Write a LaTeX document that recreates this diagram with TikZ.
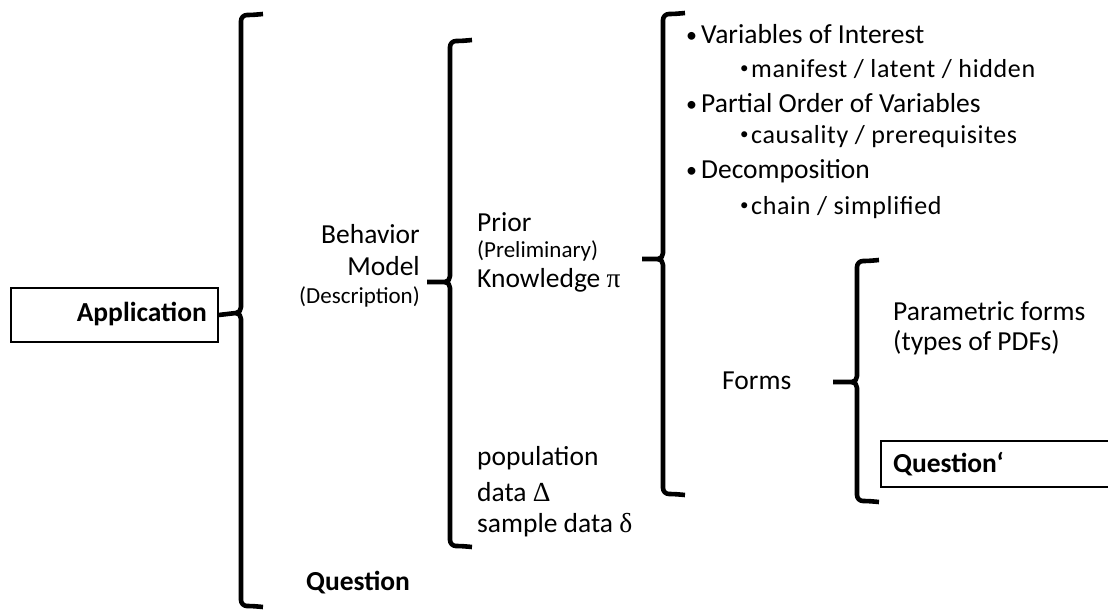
\documentclass[tikz,border=0pt]{standalone}
\usepackage{fontspec}
\setmainfont{Carlito}
\newfontfamily\grk{Liberation Serif}
\newfontfamily\subfont[LetterSpace=2.5]{Carlito}
\tikzset{
  brace/.style={line width=4.6pt, line cap=butt, line join=round},
  big/.style={font=\fontsize{27.5}{32}\selectfont, inner sep=0pt},
  small/.style={font=\fontsize{23}{27}\selectfont, inner sep=0pt},
  subitem/.style={font=\subfont\fontsize{26}{30}\selectfont, inner sep=0pt},
  boldtxt/.style={font=\fontsize{27.5}{32}\selectfont\bfseries, inner sep=0pt},
  box/.style={draw, line width=1.3pt},
}
\newcommand\mainbul{\makebox[15pt][l]{\raisebox{1pt}{\fontsize{22}{22}\selectfont •}}}
\newcommand\subbul{\makebox[11pt][l]{\raisebox{4pt}{\fontsize{17}{17}\selectfont •}}}
% #1 name, #2 x, #3 top, #4 tip y, #5 bottom, #6 tip target
\newcommand\drawbrace[6]{%
  \coordinate (#1t) at (#2+22,#3);
  \coordinate (#1b) at (#2+22,#5);
  \draw[brace] (#1t) to[out=185,in=0] (#2+6,#3+1) to[out=180,in=90] (#2,#3+7) -- (#2,#4-6)
     to[out=-90,in=0] (#2-5,#4) -- (#6);
  \draw[brace] (#2-5,#4) to[out=0,in=90] (#2,#4+6) -- (#2,#5-7)
     to[out=-90,in=180] (#2+6,#5-1) to[out=0,in=175] (#1b);
}
\begin{document}
\begin{tikzpicture}[x=1pt,y=-1pt]
\useasboundingbox (0,0) rectangle (1108,610);

% Application box
\node[box, minimum width=207pt, minimum height=54pt, inner sep=0pt] (app) at (114.5,315) {};
\node[boldtxt, anchor=east] (apptxt) at (207,314) {Application};

% Question' box
\node[box, minimum width=232pt, minimum height=46pt, inner sep=0pt] (qbox) at (997,464) {};
\node[boldtxt, anchor=west] (qptxt) at (893,464) {Question‘};

% Braces
\coordinate (b2p) at (427,282);
\coordinate (b3p) at (642,259);
\coordinate (b4p) at (833,382);
\drawbrace{b1}{241}{14}{313}{607}{app.east}
\drawbrace{b2}{450}{40}{282}{547}{b2p}
\drawbrace{b3}{663}{13}{259}{495}{b3p}
\drawbrace{b4}{857}{260}{382}{502}{b4p}

% Behavior model
\node[big, anchor=east] (beh) at (420,234) {Behavior};
\node[big, anchor=east] (mod) at (420,266) {Model};
\node[small, anchor=east] (desc) at (420,297) {(Description)};

% Prior knowledge
\node[big, anchor=west] (prior) at (477,222) {Prior};
\node[small, anchor=west] (prel) at (477,251) {(Preliminary)};
\node[big, anchor=west] (know) at (477,280) {Knowledge {\grk π}};

% data
\node[big, anchor=west] (pop) at (477,458) {population};
\node[big, anchor=west] (dat) at (477,492) {data {\grk Δ}};
\node[big, anchor=west] (samp) at (477,525) {sample data {\grk δ}};

% Question
\node[boldtxt, anchor=west] (quest) at (306,583) {Question};

% bullets
\node[big, anchor=west] (v1) at (686,34) {\mainbul Variables of Interest};
\node[subitem, anchor=west] (v1a) at (740,69) {\subbul manifest / latent / hidden};
\node[big, anchor=west] (v2) at (686,103) {\mainbul Partial Order of Variables};
\node[subitem, anchor=west] (v2a) at (740,137) {\subbul causality / prerequisites};
\node[big, anchor=west] (v3) at (686,171) {\mainbul Decomposition};
\node[subitem, anchor=west] (v3a) at (740,208) {\subbul chain / simplified};

% Forms
\node[big, anchor=west] (forms) at (722,381) {Forms};
\node[big, anchor=west] (par) at (893,311) {Parametric forms};
\node[big, anchor=west] (types) at (893,343) {(types of PDFs)};
\end{tikzpicture}
\end{document}
